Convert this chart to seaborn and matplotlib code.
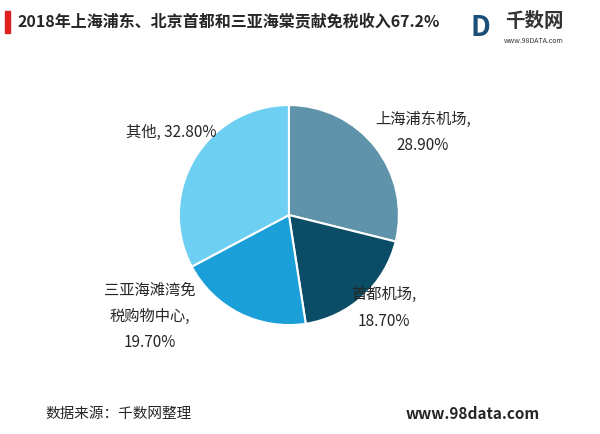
import matplotlib
matplotlib.use("Agg")
import matplotlib.pyplot as plt
import seaborn as sns

sns.set_theme(style="white")
plt.rcParams['font.family'] = ['Noto Sans CJK SC', 'DejaVu Sans']

labels = ["上海浦东机场,\n28.90%", "首都机场,\n18.70%", "三亚海滩湾免\n税购物中心,\n19.70%", "其他, 32.80%"]
values = [28.9, 18.7, 19.7, 32.8]
colors = ["#5f93a9", "#0b4d66", "#1a9fd8", "#6dcff2"]

fig = plt.figure(figsize=(6, 4.34), dpi=100)
ax = fig.add_axes([0.298, 0.251, 0.367, 0.507])
wedges, _ = ax.pie(values, colors=colors, startangle=90, counterclock=False,
                   wedgeprops=dict(edgecolor="white", linewidth=1.5))
ax.set_xlim(-1, 1)
ax.set_ylim(-1, 1)
ax.set_aspect("equal")

fs = 11
fig.text(0.625, 0.745, labels[0], fontsize=fs, ha="left", va="top", linespacing=1.7, multialignment="center")
fig.text(0.585, 0.34, labels[1], fontsize=fs, ha="left", va="top", linespacing=1.7, multialignment="center")
fig.text(0.25, 0.35, labels[2], fontsize=fs, ha="center", va="top", linespacing=1.7)
fig.text(0.21, 0.695, labels[3], fontsize=fs, ha="left", va="center")

fig.patches.append(plt.Rectangle((0.008, 0.925), 0.008, 0.05, color="#e02020", transform=fig.transFigure, figure=fig))
fig.text(0.03, 0.95, "2018年上海浦东、北京首都和三亚海棠贡献免税收入67.2%", fontsize=11.5,
         fontweight="bold", va="center", ha="left")
fig.text(0.89, 0.95, "千数网", fontsize=14, fontweight="bold", color="#333333", ha="center", va="center")
fig.text(0.89, 0.905, "www.98DATA.com", fontsize=5, color="#333333", ha="center", va="center")
fig.text(0.80, 0.935, "D", fontsize=20, fontweight="bold", color="#1a4f7a", ha="center", va="center", style="italic")

fig.text(0.075, 0.045, "数据来源：千数网整理", fontsize=10.5, ha="left", va="center")
fig.text(0.90, 0.045, "www.98data.com", fontsize=11, fontweight="bold", ha="right", va="center")

fig.savefig("out.png", dpi=100, facecolor="white")
